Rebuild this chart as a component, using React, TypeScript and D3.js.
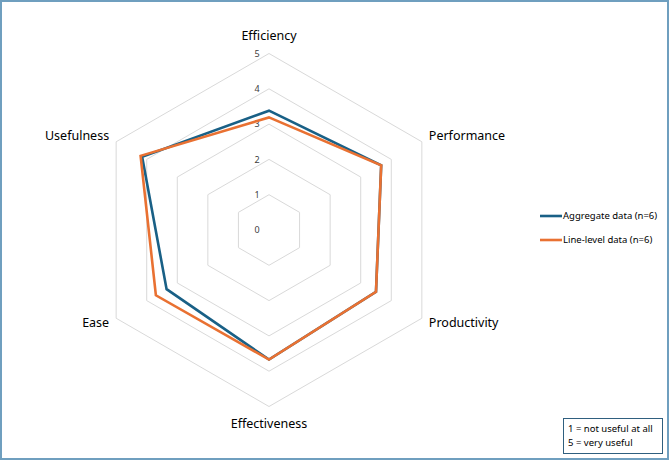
import * as d3 from 'd3';

const axes = ['Efficiency', 'Performance', 'Productivity', 'Effectiveness', 'Ease', 'Usefulness'];
const aggregate = [3.38, 3.67, 3.5, 3.67, 3.35, 4.15];
const lineLevel = [3.19, 3.67, 3.5, 3.67, 3.7, 4.2];
const ticks = [0, 1, 2, 3, 4, 5];
const seriesNames = ['Aggregate data (n=6)', 'Line-level data (n=6)'];
const colors = ['#196086', '#e97132'];

export default function App() {
  const width = 669;
  const height = 460;
  const cx = 269;
  const cy = 230;
  const radius = 176.5;
  const font = '"Noto Sans", "Open Sans", sans-serif';

  const r = d3.scaleLinear().domain([0, 5]).range([0, radius]);
  const angle = d3.scaleLinear().domain([0, axes.length]).range([0, 2 * Math.PI]);

  const line = d3
    .lineRadial<number>()
    .angle((_, i) => angle(i))
    .radius((d) => r(d))
    .curve(d3.curveLinearClosed);

  const pt = (i: number, v: number) => {
    const a = angle(i);
    return [cx + r(v) * Math.sin(a), cy - r(v) * Math.cos(a)];
  };

  // label placement per axis
  const labelPos = axes.map((name, i) => {
    const [x, y] = pt(i, 5);
    const s = Math.sin(angle(i));
    const c = Math.cos(angle(i));
    let anchor = 'middle';
    let dx = 0;
    let dy = 0;
    if (s > 0.1) { anchor = 'start'; dx = 7; }
    else if (s < -0.1) { anchor = 'end'; dx = -7; }
    if (Math.abs(s) < 0.1) dy = c > 0 ? -18 : 17;
    else dy = c > 0 ? -6 : 4;
    return { name, x: x + dx, y: y + dy, anchor };
  });

  return (
    <div style={{ position: 'fixed', left: 0, top: 0 }}>
      <svg width={width} height={height} style={{ display: 'block', fontFamily: font }}>
        <rect x={0} y={0} width={width} height={height} fill="#fff" />
        <rect x={1} y={1} width={width - 2} height={height - 2} fill="none" stroke="#6f9fbf" strokeWidth={2} />

        {ticks.slice(1).map((t) => (
          <path
            key={t}
            d={line(axes.map(() => t)) || ''}
            transform={`translate(${cx},${cy})`}
            fill="none"
            stroke="#d9d9d9"
            strokeWidth={1}
          />
        ))}

        {ticks.map((t) => (
          <text key={t} x={cx - 12} y={cy - r(t)} dy="0.35em" textAnchor="middle" fontSize={9} fill="#404040">
            {t}
          </text>
        ))}

        {[aggregate, lineLevel].map((data, k) => (
          <path
            key={k}
            d={line(data) || ''}
            transform={`translate(${cx},${cy})`}
            fill="none"
            stroke={colors[k]}
            strokeWidth={2.6}
            strokeLinejoin="miter"
          />
        ))}

        {labelPos.map((l) => (
          <text key={l.name} x={l.x} y={l.y} textAnchor={l.anchor} dy="0.35em" fontSize={12.5} fill="#000">
            {l.name}
          </text>
        ))}

        {seriesNames.map((name, k) => (
          <g key={name} transform={`translate(540,${216 + k * 24})`}>
            <line x1={0} x2={22} y1={0} y2={0} stroke={colors[k]} strokeWidth={2.6} />
            <text x={23} y={0} dy="0.35em" fontSize={9.5} fill="#000">
              {name}
            </text>
          </g>
        ))}

        <rect x={563.5} y={418.5} width={99} height={35} fill="#fff" stroke="#2f5f7f" strokeWidth={1} />
        <text x={568} y={429} dy="0.35em" fontSize={9.5} fill="#000">1 = not useful at all</text>
        <text x={568} y={443} dy="0.35em" fontSize={9.5} fill="#000">5 = very useful</text>
      </svg>
    </div>
  );
}
